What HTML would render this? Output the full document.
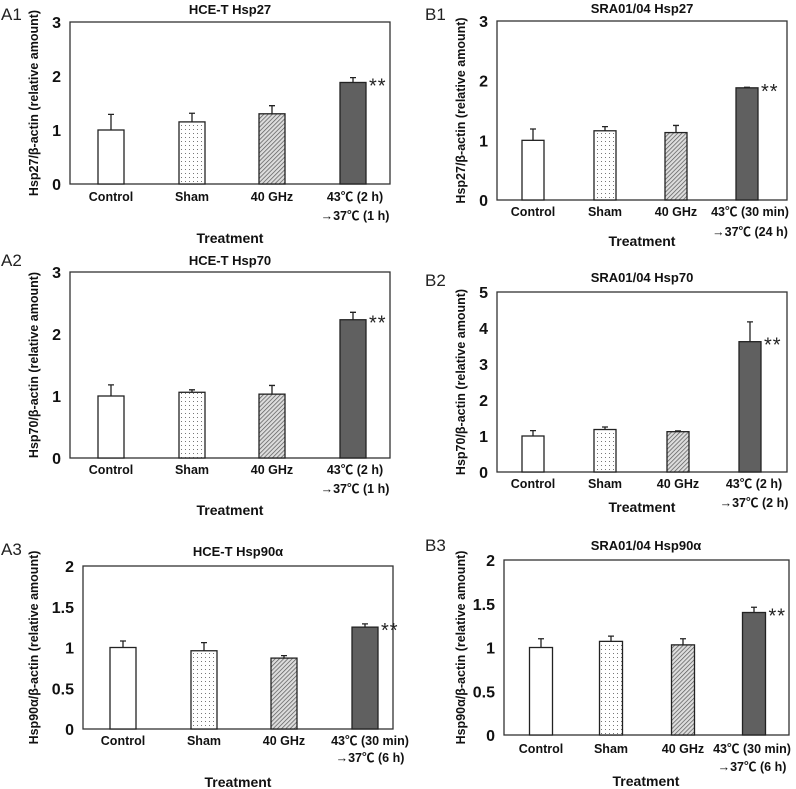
<!DOCTYPE html>
<html><head><meta charset="utf-8"><style>
html,body{margin:0;padding:0;background:#fff;}
svg{display:block;font-family:"Liberation Sans","Noto Sans CJK JP",sans-serif;}
</style></head><body>
<svg id="fig" width="796" height="789" viewBox="0 0 796 789">
<defs>
<pattern id="dots" width="4" height="4" patternUnits="userSpaceOnUse"><rect width="4" height="4" fill="#fff"/><rect x="1" y="1" width="1" height="1" fill="#777"/></pattern>
<pattern id="hatch" width="3" height="3" patternUnits="userSpaceOnUse" patternTransform="rotate(45)"><rect width="3" height="3" fill="#ddd"/><line x1="0" y1="0" x2="0" y2="3" stroke="#555" stroke-width="1.4"/></pattern>
</defs>
</svg>
<script>
const categories = ["Control","Sham","40 GHz","43°C"];
const a1Values = [1.0,1.15,1.3,1.88];
const a1Errors = [0.29,0.16,0.15,0.09];
const a2Values = [1.0,1.06,1.03,2.23];
const a2Errors = [0.18,0.04,0.14,0.12];
const a3Values = [1.0,0.96,0.87,1.25];
const a3Errors = [0.08,0.10,0.03,0.04];
const b1Values = [1.0,1.16,1.13,1.88];
const b1Errors = [0.19,0.07,0.12,0.01];
const b2Values = [1.0,1.18,1.12,3.62];
const b2Errors = [0.15,0.07,0.02,0.55];
const b3Values = [1.0,1.07,1.03,1.4];
const b3Errors = [0.10,0.06,0.07,0.06];
const ticks3 = ["0","1","2","3"];
const ticks5 = ["0","1","2","3","4","5"];
const ticks2 = ["0","0.5","1","1.5","2"];

const NS="http://www.w3.org/2000/svg";
const svg=document.getElementById('fig');
function mk(tag,attrs,parent,text){const e=document.createElementNS(NS,tag);for(const k in attrs)e.setAttribute(k,attrs[k]);if(text!==undefined)e.textContent=text;(parent||svg).appendChild(e);return e;}
const fills=["#fff","url(#dots)","url(#hatch)","#606060"];

function panel(p){
  const g=mk('g',{});
  
  
  const ymax=p.ymax;
  const yS=v=>p.y0-(v/ymax)*(p.y0-p.yTop);
  const xS=i=>p.cx[i];
  const frame=mk('rect',{x:p.x0,y:p.yTop,width:p.x1-p.x0,height:p.y0-p.yTop,fill:'none',stroke:'#333','stroke-width':1.3},g);
  
  
  p.ticks.forEach(t=>{
    const v=parseFloat(t);
    const lab=mk('text',{x:p.x0-9,y:yS(v)+6,'text-anchor':'end','font-size':16,'font-weight':'bold',fill:'#111'},g,t);
    
    
  });
  p.values.forEach((v,i)=>{
    const x=xS(i)-p.bw/2, y=yS(v);
    const bar=mk('rect',{x:x,y:y,width:p.bw,height:p.y0-y,fill:fills[i],stroke:'#222','stroke-width':1.3},g);
    
    
    const ye=yS(v+p.errors[i]);
    const eb=mk('path',{d:`M${xS(i)} ${y} V${ye} M${xS(i)-3} ${ye} H${xS(i)+3}`,stroke:'#222','stroke-width':1.3,fill:'none'},g);
    
    
  });
  const st=mk('text',{x:xS(3)+p.bw/2+3,y:yS(p.values[3])+10,'font-size':20,fill:'#222','letter-spacing':'1'},g,'**');
  
  
  categories.slice(0,3).forEach((c,i)=>{
    const t=mk('text',{x:xS(i),y:p.catY,'text-anchor':'middle','font-size':12.5,'font-weight':'bold',fill:'#111'},g,c);
    
    
  });
  const l1=mk('text',{x:p.lx,y:p.catY,'text-anchor':'middle','font-size':12.5,'font-weight':'bold',fill:'#111'},g,p.line1);
  
  
  const l2=mk('text',{x:p.lx,y:p.catY2,'text-anchor':'middle','font-size':12.5,'font-weight':'bold',fill:'#111'},g,p.line2);
  
  
  const tt=mk('text',{x:p.tx,y:p.titleY,'text-anchor':'middle','font-size':13,'font-weight':'bold',fill:'#111'},g,p.title);
  
  
  const xt=mk('text',{x:p.tx,y:p.treatY,'text-anchor':'middle','font-size':14,'font-weight':'bold',fill:'#111'},g,'Treatment');
  
  
  const ymid=(p.yTop+p.y0)/2;
  const yt=mk('text',{x:p.ytx,y:ymid,'text-anchor':'middle','font-size':12.5,'font-weight':'bold',fill:'#111',transform:`rotate(-90 ${p.ytx} ${ymid})`},g,p.ytitle);
  
  
  const pl=mk('text',{x:p.plx,y:p.ply,'font-size':17,fill:'#222'},g,p.id.toUpperCase());
  
  
}

panel({id:'a1',values:a1Values,errors:a1Errors,ticks:ticks3,ymax:3,x0:70,x1:390,yTop:22,y0:184,cx:[111,192,272,353],bw:26,
  catY:201,catY2:220,lx:355,line1:'43℃ (2 h)',line2:'→37℃ (1 h)',title:'HCE-T Hsp27',tx:230,titleY:14,treatY:243,ytx:38,ytitle:'Hsp27/β-actin (relative amount)',plx:1,ply:20});
panel({id:'a2',values:a2Values,errors:a2Errors,ticks:ticks3,ymax:3,x0:70,x1:390,yTop:272,y0:458,cx:[111,192,272,353],bw:26,
  catY:474,catY2:493,lx:355,line1:'43℃ (2 h)',line2:'→37℃ (1 h)',title:'HCE-T Hsp70',tx:230,titleY:265,treatY:515,ytx:38,ytitle:'Hsp70/β-actin (relative amount)',plx:1,ply:266});
panel({id:'a3',values:a3Values,errors:a3Errors,ticks:ticks2,ymax:2,x0:83,x1:393,yTop:566,y0:729,cx:[123,204,284,365],bw:26,
  catY:745,catY2:762,lx:370,line1:'43℃ (30 min)',line2:'→37℃ (6 h)',title:'HCE-T Hsp90α',tx:238,titleY:556,treatY:787,ytx:38,ytitle:'Hsp90α/β-actin (relative amount)',plx:1,ply:555});
panel({id:'b1',values:b1Values,errors:b1Errors,ticks:ticks3,ymax:3,x0:497,x1:787,yTop:21,y0:200,cx:[533,605,676,747],bw:22,
  catY:216,catY2:236,lx:750,line1:'43℃ (30 min)',line2:'→37℃ (24 h)',title:'SRA01/04 Hsp27',tx:642,titleY:13,treatY:246,ytx:465,ytitle:'Hsp27/β-actin (relative amount)',plx:425,ply:20});
panel({id:'b2',values:b2Values,errors:b2Errors,ticks:ticks5,ymax:5,x0:497,x1:787,yTop:292,y0:472,cx:[533,605,678,750],bw:22,
  catY:488,catY2:507,lx:754,line1:'43℃ (2 h)',line2:'→37℃ (2 h)',title:'SRA01/04 Hsp70',tx:642,titleY:282,treatY:512,ytx:465,ytitle:'Hsp70/β-actin (relative amount)',plx:425,ply:286});
panel({id:'b3',values:b3Values,errors:b3Errors,ticks:ticks2,ymax:2,x0:504,x1:789,yTop:560,y0:735,cx:[541,611,683,754],bw:23,
  catY:753,catY2:771,lx:752,line1:'43℃ (30 min)',line2:'→37℃ (6 h)',title:'SRA01/04 Hsp90α',tx:646,titleY:550,treatY:786,ytx:465,ytitle:'Hsp90α/β-actin (relative amount)',plx:425,ply:551});
</script>
</body></html>
